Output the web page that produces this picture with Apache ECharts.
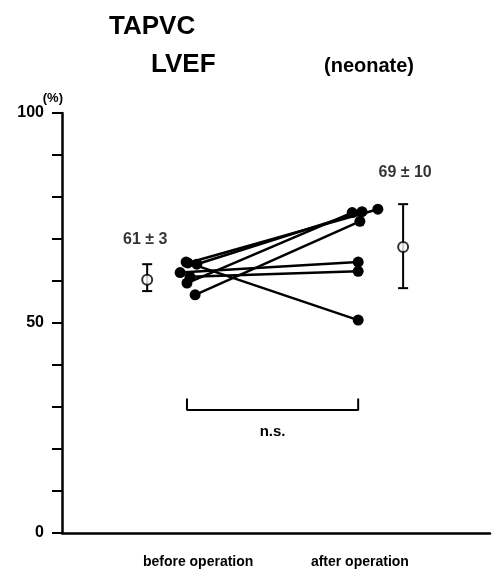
<!DOCTYPE html>
<html>
<head>
<meta charset="utf-8">
<script src="https://cdn.jsdelivr.net/npm/echarts@6/dist/echarts.min.js"></script>
<style>
  html, body { margin: 0; padding: 0; background: #fff; }
  #main { width: 497px; height: 588px; }
</style>
</head>
<body>
<div id="main"></div>
<script>
// 数据：每个病人术前 / 术后 LVEF (%)
var groupNames = ['before operation', 'after operation'];
var groupPos = [31.8, 69.6];
var beforeX = [29.4, 31.5, 29.2, 31.1, 27.6, 29.9, 29.0];
var beforeVal = [64.3, 64.0, 59.5, 56.7, 62.0, 61.0, 64.5];
var afterX = [73.8, 70.1, 67.8, 69.6, 69.2, 69.2, 69.2];
var afterVal = [77.1, 76.5, 76.3, 74.2, 64.5, 62.3, 50.7];

// 均值 ± SD
var meanX = [19.9, 79.7];
var meanVal = [60.3, 68.1];
var meanLow = [57.6, 58.3];
var meanHigh = [64.0, 78.3];
var meanText = ['61 \u00b1 3', '69 \u00b1 10'];

// n.s. 括号
var bracketX = [29.2, 69.2];
var bracketY = [32.0, 29.3];

var yTicks = [0, 50, 100];

var font = '"Liberation Sans", Arial, sans-serif';

var dom = document.getElementById('main');
var myChart = echarts.init(dom);

var series = [];
for (var i = 0; i < beforeVal.length; i++) {
    series.push({
        type: 'line',
        data: [[beforeX[i], beforeVal[i]], [afterX[i], afterVal[i]]],
        symbol: 'circle',
        symbolSize: 11,
        showSymbol: true,
        itemStyle: { color: '#000' },
        lineStyle: { color: '#000', width: 2.5 },
        silent: true,
        z: 3
    });
}

// 误差线
series.push({
    type: 'custom',
    data: meanX.map(function (x, i) { return [x, meanLow[i], meanHigh[i]]; }),
    renderItem: function (params, api) {
        var lo = api.coord([api.value(0), api.value(1)]);
        var hi = api.coord([api.value(0), api.value(2)]);
        var w = 5;
        var st = { stroke: '#000', lineWidth: 2 };
        return {
            type: 'group',
            children: [
                { type: 'line', shape: { x1: lo[0], y1: lo[1], x2: hi[0], y2: hi[1] }, style: st },
                { type: 'line', shape: { x1: lo[0] - w, y1: lo[1], x2: lo[0] + w, y2: lo[1] }, style: st },
                { type: 'line', shape: { x1: hi[0] - w, y1: hi[1], x2: hi[0] + w, y2: hi[1] }, style: st }
            ]
        };
    },
    silent: true,
    z: 2
});

// 均值空心圆
series.push({
    type: 'scatter',
    data: [
        { value: [meanX[0], meanVal[0]], label: { show: true, formatter: meanText[0], position: 'top', distance: 26, offset: [-2, 0] } },
        { value: [meanX[1], meanVal[1]], label: { show: true, formatter: meanText[1], position: 'top', distance: 60, offset: [2, 0] } }
    ],
    symbol: 'circle',
    symbolSize: 10,
    itemStyle: { color: '#fff', borderColor: '#000', borderWidth: 2 },
    label: { color: '#000', fontFamily: font, fontWeight: 'bold', fontSize: 16 },
    silent: true,
    z: 4
});

// n.s. 括号
series.push({
    type: 'line',
    data: [[bracketX[0], bracketY[0]], [bracketX[0], bracketY[1]], [bracketX[1], bracketY[1]], [bracketX[1], bracketY[0]]],
    symbol: 'none',
    lineStyle: { color: '#000', width: 2 },
    silent: true,
    markPoint: {
        symbol: 'rect',
        symbolSize: 1,
        itemStyle: { color: 'transparent' },
        label: { show: true, formatter: 'n.s.', color: '#000', fontFamily: font, fontWeight: 'bold', fontSize: 15, position: 'bottom', distance: 14 },
        data: [{ coord: [(bracketX[0] + bracketX[1]) / 2, bracketY[1]] }]
    }
});

var option = {
    animation: false,
    backgroundColor: '#fff',
    title: [
        { text: 'TAPVC', left: 104, top: 9, textStyle: { fontFamily: font, fontWeight: 'bold', fontSize: 26, color: '#000' } },
        { text: 'LVEF', left: 146, top: 47, textStyle: { fontFamily: font, fontWeight: 'bold', fontSize: 26, color: '#000' } },
        { text: '(neonate)', left: 319, top: 51, textStyle: { fontFamily: font, fontWeight: 'bold', fontSize: 20, color: '#000' } }
    ],
    grid: { left: 62, right: 7, top: 113, bottom: 55 },
    xAxis: {
        type: 'value',
        min: 0,
        max: 100,
        splitLine: { show: false },
        axisLine: { show: true, lineStyle: { color: '#000', width: 2.5 } },
        axisTick: { show: false },
        axisLabel: {
            customValues: groupPos,
            formatter: function (v) {
                var k = groupPos.indexOf(v);
                return k >= 0 ? groupNames[k] : '';
            },
            color: '#000',
            fontFamily: font,
            fontWeight: 'bold',
            fontSize: 14,
            margin: 22
        }
    },
    yAxis: {
        type: 'value',
        min: 0,
        max: 100,
        interval: 10,
        name: '(%)',
        nameLocation: 'end',
        nameGap: 6,
        nameTextStyle: { color: '#000', fontFamily: font, fontWeight: 'bold', fontSize: 13, align: 'right', padding: [0, -1, 0, 0] },
        splitLine: { show: false },
        axisLine: { show: true, lineStyle: { color: '#000', width: 2.5 } },
        axisTick: { show: true, length: 10, lineStyle: { color: '#000', width: 2 } },
        axisLabel: {
            formatter: function (v) { return yTicks.indexOf(v) >= 0 ? String(v) : ''; },
            color: '#000',
            fontFamily: font,
            fontWeight: 'bold',
            fontSize: 16,
            margin: 18
        }
    },
    series: series
};

myChart.setOption(option);
</script>
</body>
</html>
